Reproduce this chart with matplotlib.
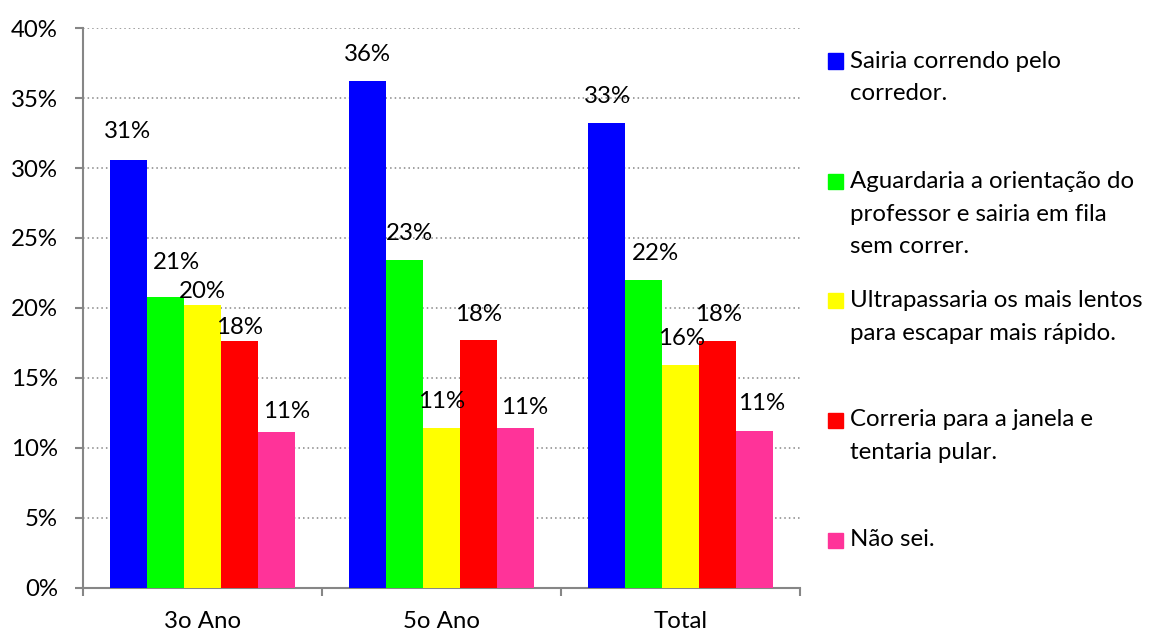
import matplotlib
matplotlib.use("Agg")
import matplotlib.pyplot as plt
from matplotlib.patches import Rectangle
import numpy as np

# Survey results: share of answers per group
categories = ["3o Ano", "5o Ano", "Total"]
series_labels = [
    ["Sairia correndo pelo", "corredor."],
    ["Aguardaria a orientação do", "professor e sairia em fila", "sem correr."],
    ["Ultrapassaria os mais lentos", "para escapar mais rápido."],
    ["Correria para a janela e", "tentaria pular."],
    ["Não sei."],
]
values = [
    [30.6, 36.2, 33.2],   # Sairia correndo pelo corredor
    [20.8, 23.4, 22.0],   # Aguardaria a orientação do professor
    [20.2, 11.4, 15.9],   # Ultrapassaria os mais lentos
    [17.6, 17.7, 17.6],   # Correria para a janela
    [11.1, 11.4, 11.2],   # Não sei
]
colors = ["#0000FF", "#00FF00", "#FFFF00", "#FF0000", "#FF3399"]
y_ticks = [0, 5, 10, 15, 20, 25, 30, 35, 40]

# label nudges (pixels) relative to the default spot above each bar
label_shift = [
    [(-1, 28), (0, 27), (1, 27)],
    [(11, 34), (5, 27), (12, 26)],
    [(0, 14), (0, 27), (1, 27)],
    [(0, 14), (0, 26), (1, 27)],
    [(10, 21), (9, 21), (7, 27)],
]

FONT = "Lato"
FS = 17.3
plt.rcParams["font.family"] = [FONT, "DejaVu Sans"]

W, H = 1154, 632
fig = plt.figure(figsize=(W / 100, H / 100), dpi=100)
ax = fig.add_axes([83 / W, 1 - 587.5 / H, (800 - 83) / W, (587.5 - 28.3) / H])

n = len(values)
bw = 0.154
x = np.arange(len(categories))
axis_grey = "#868686"

for i, (vals, col) in enumerate(zip(values, colors)):
    pos = x + (i - (n - 1) / 2) * bw
    ax.bar(pos, vals, width=bw, color=col, zorder=3, linewidth=0)
    for j, (px, v) in enumerate(zip(pos, vals)):
        dx, dy = label_shift[i][j]
        ax.annotate(f"{int(v + 0.5)}%", xy=(px, v), xytext=(dx, dy),
                    textcoords="offset pixels", ha="center", va="center",
                    fontsize=FS, color="black", zorder=4)

ax.set_xlim(-0.5, 2.5)
ax.set_ylim(0, 40)
ax.set_yticks(y_ticks)
ax.set_yticklabels([f"{t}%" for t in y_ticks], fontsize=FS)
ax.yaxis.grid(True, color=axis_grey, linestyle=(0, (1, 2)), linewidth=1.1, zorder=0)
ax.set_axisbelow(True)

# group boundaries as major ticks, names as minor ticks
ax.set_xticks([-0.5, 0.5, 1.5, 2.5])
ax.set_xticklabels([])
ax.set_xticks(x, minor=True)
ax.set_xticklabels(categories, minor=True, fontsize=FS)
ax.tick_params(axis="x", which="major", length=6, width=1.5, color=axis_grey, direction="out")
ax.tick_params(axis="x", which="minor", length=0, pad=17)
ax.tick_params(axis="y", length=6, width=1.5, color=axis_grey, pad=12)

for s in ["top", "right"]:
    ax.spines[s].set_visible(False)
for s in ["left", "bottom"]:
    ax.spines[s].set_color(axis_grey)
    ax.spines[s].set_linewidth(1.5)

# legend drawn at the right of the plot
first_line_y = [61, 181.7, 300.7, 420, 540]
line_gap = 32.5
for col, lines, y0 in zip(colors, series_labels, first_line_y):
    fig.patches.append(Rectangle((828 / W, 1 - (y0 + 7.5) / H), 15 / W, 15 / H,
                                 transform=fig.transFigure, color=col, figure=fig))
    for k, line in enumerate(lines):
        fig.text(850 / W, 1 - (y0 + k * line_gap) / H, line, fontsize=FS,
                 ha="left", va="center", color="black")

fig.savefig("out.png", dpi=100)
